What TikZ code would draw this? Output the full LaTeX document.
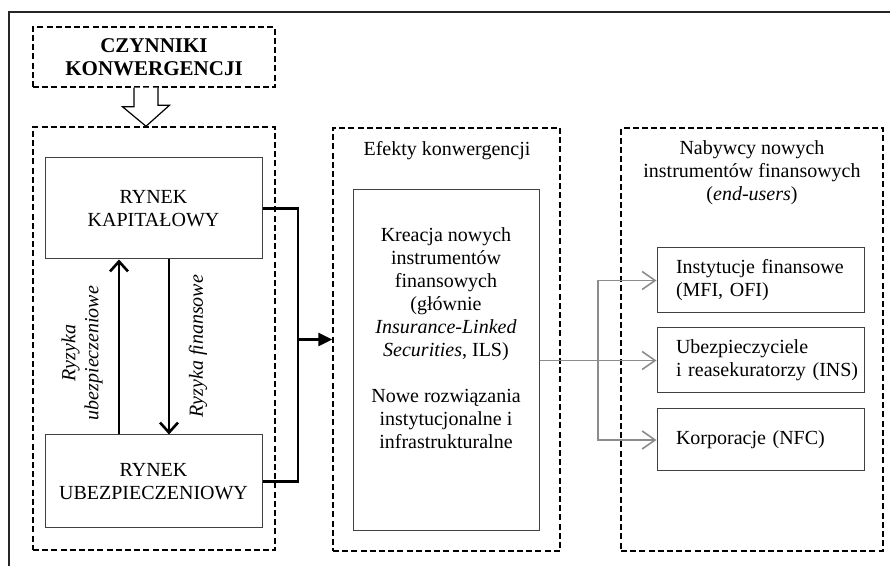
\documentclass[tikz,border=0pt]{standalone}
\usepackage{fontspec}
\setmainfont{Liberation Serif}
\usetikzlibrary{positioning,calc,arrows.meta}

\tikzset{
    dashbox/.style={rectangle, draw, dash pattern=on 3pt off 1.6pt, line width=0.75pt},
    solidbox/.style={rectangle, draw=black!75, line width=0.5pt, align=center},
    marketbox/.style={solidbox, minimum width=108.5pt, font=\fontsize{10}{11.5}\selectfont},
    buyerbox/.style={rectangle, draw=black!75, line width=0.5pt, text width=84.5pt, inner xsep=9.5pt, align=left},
    frameline/.style={draw=black!85, line width=0.8pt},
    marketline/.style={line width=1.4pt, line join=miter},
    riskarrow/.style={line width=1.3pt, -{Straight Barb[length=5pt, width=9pt, line width=1.3pt]}},
    buyerarrow/.style={draw=black!45, line width=0.8pt, -{Straight Barb[length=6.5pt, width=9pt, line width=0.8pt]}},
    hollowarrow/.style={draw, fill=white, line width=0.6pt, line join=miter}
}

\begin{document}
\begin{tikzpicture}[x=0.5pt, y=-0.5pt, font=\fontsize{10}{11.5}\selectfont]

    \useasboundingbox (0,0) rectangle (890,566);

        % Frame
    \draw[frameline] (890,12) -- (9,12) -- (9,566);

        % Nodes
    \node (factors) [dashbox, minimum width=121pt, minimum height=30pt, align=center, font=\fontsize{10.5}{11.5}\selectfont\bfseries] at (154,57) {CZYNNIKI\\ KONWERGENCJI};
    \node (markets) [dashbox, minimum width=121pt, minimum height=211.5pt] at (154,338.5) {};
    \node (capital) [marketbox, minimum height=50.5pt] at (153.5,208.5) {RYNEK\\ KAPITAŁOWY};
    \node (insurance) [marketbox, minimum height=46.5pt] at (153.5,481.5) {RYNEK\\ UBEZPIECZENIOWY};
    \node (insrisk) [rotate=90, align=center, font=\fontsize{10}{11.5}\selectfont\itshape] at (82,353) {Ryzyka\\ ubezpieczeniowe};
    \node (finrisk) [rotate=90, font=\fontsize{10}{11.5}\selectfont\itshape] at (198,346) {Ryzyka finansowe};

    \node (effects) [dashbox, minimum width=113.5pt, minimum height=211.5pt] at (446.5,339.5) {};
    \node (effectstitle) at (447,151) {Efekty konwergencji};
    \node (effectsbox) [solidbox, minimum width=93pt, minimum height=170.5pt] at (446,360.5) {};
    \node (effectstext) [align=center] at (446,338) {Kreacja nowych\\ instrumentów\\ finansowych\\ (głównie\\ \textit{Insurance-Linked}\\ \textit{Securities}, ILS)\\[11.5pt] Nowe rozwiązania\\ instytucjonalne i\\ infrastrukturalne};

    \node (buyers) [dashbox, minimum width=131pt, minimum height=211.5pt] at (752,339.5) {};
    \node (buyerstitle) [align=center] at (752,173) {Nabywcy nowych\\ instrumentów finansowych\\ (\textit{end-users})};
    \node (financial) [buyerbox, minimum height=32.5pt] at (760.5,280.5) {Instytucje finansowe\\ (MFI, OFI)};
    \node (insurers) [buyerbox, minimum height=32.5pt, below=7pt of financial] {Ubezpieczyciele\\ \mbox{i reasekuratorzy (INS)}};
    \node (corporations) [buyerbox, minimum height=31pt, below=7.5pt of insurers] {Korporacje (NFC)};

        % Arrows
    \coordinate (tip) at ([xshift=-4pt]markets.north);
    \draw[hollowarrow] ([xshift=-10pt]factors.south) -- ++(0,-9.5pt) -- ++(-5.75pt,0) -- (tip) -- ++(11.75pt,10.5pt) -- ++(-5.75pt,0) -- ([xshift=2pt]factors.south);

    \draw[riskarrow] ([xshift=-17.25pt]insurance.north) -- ([xshift=-17.25pt]capital.south);
    \draw[riskarrow] ([xshift=7.75pt]capital.south) -- ([xshift=7.75pt]insurance.north);

    \coordinate (merge) at (298,339.5);
    \draw[marketline] (capital.east) -| (merge) |- (insurance.east);
    \draw[marketline, -{Triangle[length=7pt, width=6.5pt]}] (merge) -- (effects.west);

    \coordinate (split) at (598,360.5);
    \draw[buyerarrow] (effectsbox.east) -- (effectsbox.east -| insurers.west);
    \draw[buyerarrow] (split) |- (financial.west);
    \draw[buyerarrow] (split) |- (corporations.west);

\end{tikzpicture}
\end{document}
